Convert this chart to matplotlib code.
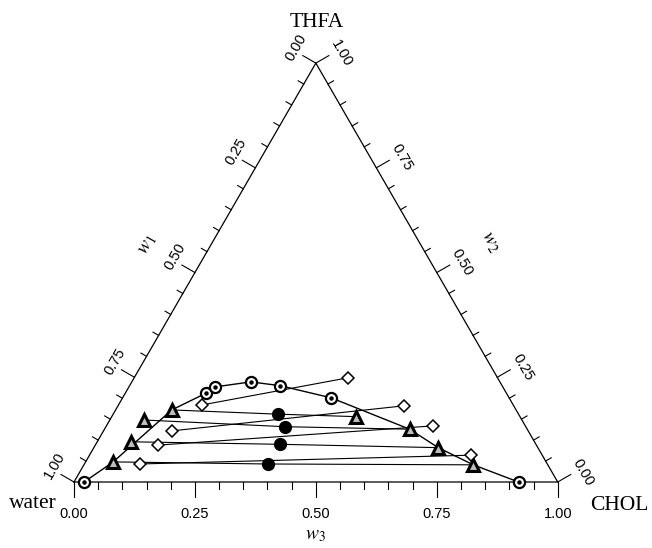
import numpy as np
import matplotlib
matplotlib.use("Agg")
import matplotlib.pyplot as plt

plt.rcParams['mathtext.fontset'] = 'stix'

# compositions (mass fractions): w3 = CHOL, w2 = THFA, w1 = water
# binodal curve (circles with dot)
bin_w3 = [0.021, 0.167, 0.178, 0.246, 0.311, 0.431, 0.919]
bin_w2 = [0.000, 0.212, 0.227, 0.239, 0.230, 0.201, 0.000]

# experimental tie lines: left phase (triangles), feed (filled), right phase (triangles)
left_w3 = [0.057, 0.069, 0.071, 0.116]
left_w2 = [0.048, 0.096, 0.148, 0.172]
feed_w3 = [0.379, 0.381, 0.370, 0.340]
feed_w2 = [0.043, 0.090, 0.132, 0.162]
right_w3 = [0.805, 0.712, 0.631, 0.505]
right_w2 = [0.041, 0.082, 0.126, 0.156]

# calculated tie lines (diamonds)
calc_l_w3 = [0.114, 0.129, 0.141, 0.173]
calc_l_w2 = [0.043, 0.088, 0.122, 0.184]
calc_r_w3 = [0.788, 0.676, 0.592, 0.443]
calc_r_w2 = [0.064, 0.134, 0.182, 0.249]

# curve drawn through binodal circles and the tie-line ends lying on it
curve_w3 = [0.021, 0.057, 0.116, 0.167, 0.178, 0.246, 0.311, 0.431, 0.631, 0.712, 0.805, 0.919]
curve_w2 = [0.000, 0.048, 0.172, 0.212, 0.227, 0.239, 0.230, 0.201, 0.126, 0.082, 0.041, 0.000]

ticks = np.round(np.arange(0, 1.0001, 0.05), 2)
major = [0.0, 0.25, 0.5, 0.75, 1.0]

S3 = np.sqrt(3) / 2
PX = 1 / 483.7   # one pixel in data units


def tern(w3, w2):
    w3 = np.asarray(w3, float)
    w2 = np.asarray(w2, float)
    return w3 + w2 / 2, w2 * S3


fig = plt.figure(figsize=(6.52, 5.48), dpi=100)
ax = fig.add_axes([0, 0, 1, 1])
ax.set_xlim(-74 * PX, (652 - 74) * PX)
ax.set_ylim(-(548 - 482) * PX, 482 * PX)
ax.axis('off')

# triangle frame
ax.plot([0, 1, 0.5, 0], [0, 0, S3, 0], color='black', lw=0.9, solid_joinstyle='miter')

tfont = dict(family='Liberation Sans', fontsize=10.5)
for t in ticks:
    ln = 15 * PX if t in major else 6.5 * PX
    # bottom axis w3
    ax.plot([t, t], [0, -ln], color='black', lw=0.8)
    # left axis w1 (water), value t at w2 = 1 - t
    x0, y0 = tern(0, 1 - t)
    nx, ny = -np.sqrt(3) / 2, 0.5
    ax.plot([x0, x0 + nx * ln], [y0, y0 + ny * ln], color='black', lw=0.8)
    # right axis w2 (THFA), value t
    x1, y1 = tern(1 - t, t)
    mx, my = np.sqrt(3) / 2, 0.5
    ax.plot([x1, x1 + mx * ln], [y1, y1 + my * ln], color='black', lw=0.8)
    if t in major:
        ax.text(t, -32 * PX, f"{t:.2f}", ha='center', va='center', **tfont)
        ax.text(x0 + nx * 25 * PX + 0.5 * 4 * PX, y0 + ny * 25 * PX + S3 * 4 * PX,
                f"{t:.2f}", ha='center', va='center', rotation=60,
                rotation_mode='anchor', **tfont)
        ax.text(x1 + mx * 27 * PX + 0.5 * 4 * PX, y1 + my * 27 * PX - S3 * 4 * PX,
                f"{t:.2f}", ha='center', va='center', rotation=-60,
                rotation_mode='anchor', **tfont)

# axis titles
ax.text(0.25 - 0.866 * 56 * PX, S3 / 2 + 0.5 * 56 * PX, r'$w_1$', fontsize=14,
        ha='center', va='center', rotation=60, rotation_mode='anchor')
ax.text(0.75 + 0.866 * 62 * PX, S3 / 2 + 0.5 * 62 * PX, r'$w_2$', fontsize=14,
        ha='center', va='center', rotation=-60, rotation_mode='anchor')
ax.text(0.5, -52 * PX, r'$w_3$', fontsize=14, ha='center', va='center')

# vertex labels
vfont = dict(family='Liberation Serif', fontsize=15.5)
ax.text(0.5 + 1 * PX, (482 - 27) * PX, 'THFA', ha='center', va='baseline', **vfont)
ax.text(-17 * PX, -26 * PX, 'water', ha='right', va='baseline', **vfont)
ax.text(1 + 32 * PX, -28 * PX, 'CHOL', ha='left', va='baseline', **vfont)

# binodal curve
cx, cy = tern(curve_w3, curve_w2)
ax.plot(cx, cy, color='black', lw=1.0, zorder=2)

# tie lines
for i in range(len(left_w3)):
    lx, ly = tern([left_w3[i], feed_w3[i], right_w3[i]], [left_w2[i], feed_w2[i], right_w2[i]])
    ax.plot(lx, ly, color='black', lw=0.8, zorder=2)
    dx, dy = tern([calc_l_w3[i], calc_r_w3[i]], [calc_l_w2[i], calc_r_w2[i]])
    ax.plot(dx, dy, color='black', lw=0.8, zorder=2)

# markers
bx, by = tern(bin_w3, bin_w2)
ax.plot(bx, by, 'o', ms=8, mfc='white', mec='black', mew=1.6, zorder=4)
ax.plot(bx, by, 'o', ms=2.2, mfc='black', mec='black', zorder=5)

for w3s, w2s in [(left_w3, left_w2), (right_w3, right_w2)]:
    px_, py_ = tern(w3s, w2s)
    ax.plot(px_, py_, '^', ms=8.5, mfc='0.75', mec='black', mew=2.2, zorder=4)

fx, fy = tern(feed_w3, feed_w2)
ax.plot(fx, fy, 'o', ms=8.5, color='black', zorder=4)

for w3s, w2s in [(calc_l_w3, calc_l_w2), (calc_r_w3, calc_r_w2)]:
    px_, py_ = tern(w3s, w2s)
    ax.plot(px_, py_, 'D', ms=6.5, mfc='white', mec='black', mew=1.1, zorder=4)

fig.savefig('out.png', dpi=100)
